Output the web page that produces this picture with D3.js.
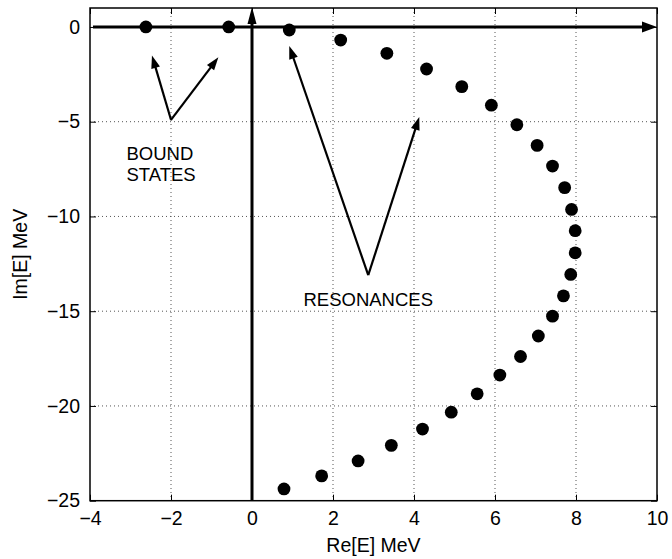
<!DOCTYPE html>
<html>
<head>
<meta charset="utf-8">
<script src="https://cdn.jsdelivr.net/npm/d3@7"></script>
<style>
  html, body { margin: 0; padding: 0; background: #fff; }
  svg { display: block; }
  text { font-family: "Liberation Sans", Arial, Helvetica, sans-serif; fill: #000; }
</style>
</head>
<body>
<svg id="chart" width="672" height="559"></svg>
<script>
// Pole positions in the complex energy plane (MeV)
const reE = [-2.62, -0.575, 0.92, 2.19, 3.33, 4.31, 5.18, 5.91, 6.54, 7.04, 7.42, 7.72, 7.89, 7.98,
             7.98, 7.87, 7.69, 7.42, 7.07, 6.63, 6.12, 5.56, 4.92, 4.21, 3.44, 2.62, 1.72, 0.79];
const imE = [0, 0, -0.16, -0.69, -1.39, -2.22, -3.15, -4.13, -5.16, -6.25, -7.34, -8.48, -9.63, -10.75,
             -11.92, -13.06, -14.19, -15.26, -16.31, -17.39, -18.37, -19.36, -20.33, -21.22, -22.08, -22.90, -23.69, -24.38];

const xTicks = [-4, -2, 0, 2, 4, 6, 8, 10];
const yTicks = [0, -5, -10, -15, -20, -25];
const xDomain = [-4, 10];
const yDomain = [1, -25];

// Annotation arrows: [fromX, fromY, toX, toY] in data units
const boundArrows = [[-2.0, -4.9, -2.47, -1.5], [-2.0, -4.9, -0.83, -1.6]];
const resonanceArrows = [[2.87, -13.1, 0.92, -1.0], [2.87, -13.1, 4.13, -4.75]];
const boundLabel = { x: -3.1, y: -7.0, lines: ["BOUND", "STATES"] };
const resonanceLabel = { x: 2.87, y: -14.7, lines: ["RESONANCES"] };

const svg = d3.select("#chart");
const x = d3.scaleLinear().domain(xDomain).range([90, 657]);
const y = d3.scaleLinear().domain(yDomain).range([8, 500.7]);

const minus = d => (d < 0 ? "\u2212" + Math.abs(d) : String(d));

// dotted grid
const grid = svg.append("g").attr("stroke", "#555").attr("stroke-width", 1)
  .attr("stroke-dasharray", "1,3");
grid.selectAll("line.gx").data(xTicks.slice(1, -1)).join("line")
  .attr("x1", d => x(d)).attr("x2", d => x(d)).attr("y1", y(yDomain[0])).attr("y2", y(yDomain[1]));
grid.selectAll("line.gy").data(yTicks.slice(1, -1)).join("line")
  .attr("y1", d => y(d)).attr("y2", d => y(d)).attr("x1", x(xDomain[0])).attr("x2", x(xDomain[1]));

// axes with inward ticks on all four sides
const fontPx = 19.5;
const ax = svg.append("g").attr("transform", `translate(0,${y(yDomain[1])})`)
  .call(d3.axisBottom(x).tickValues(xTicks).tickFormat(minus).tickSizeInner(-6).tickSizeOuter(0).tickPadding(10));
const ay = svg.append("g").attr("transform", `translate(${x(xDomain[0])},0)`)
  .call(d3.axisLeft(y).tickValues(yTicks).tickFormat(minus).tickSizeInner(-6).tickSizeOuter(0).tickPadding(10));
const at = svg.append("g").attr("transform", `translate(0,${y(yDomain[0])})`)
  .call(d3.axisTop(x).tickValues(xTicks).tickFormat("").tickSizeInner(-6).tickSizeOuter(0));
const ar = svg.append("g").attr("transform", `translate(${x(xDomain[1])},0)`)
  .call(d3.axisRight(y).tickValues(yTicks).tickFormat("").tickSizeInner(-6).tickSizeOuter(0));
[ax, ay, at, ar].forEach(g => {
  g.select(".domain").remove();
  g.selectAll(".tick line").attr("stroke", "#000").attr("stroke-width", 1);
  g.selectAll("text").attr("font-size", fontPx).attr("font-family", "Liberation Sans, Arial, sans-serif").attr("fill", "#000");
});

// frame
svg.append("rect")
  .attr("x", x(xDomain[0])).attr("y", y(yDomain[0]))
  .attr("width", x(xDomain[1]) - x(xDomain[0])).attr("height", y(yDomain[1]) - y(yDomain[0]))
  .attr("fill", "none").attr("stroke", "#000").attr("stroke-width", 1.5);

// arrow helper: line plus filled triangular head
function arrow(g, x1, y1, x2, y2, width, headLen, headHalf) {
  const dx = x2 - x1, dy = y2 - y1, L = Math.hypot(dx, dy);
  const ux = dx / L, uy = dy / L;
  const bx = x2 - ux * headLen, by = y2 - uy * headLen;
  g.append("line").attr("x1", x1).attr("y1", y1).attr("x2", bx + ux * 1).attr("y2", by + uy * 1)
    .attr("stroke", "#000").attr("stroke-width", width);
  g.append("path")
    .attr("d", `M${x2},${y2}L${bx - uy * headHalf},${by + ux * headHalf}L${bx + uy * headHalf},${by - ux * headHalf}Z`)
    .attr("fill", "#000");
}

// coordinate axes through the origin
const axesG = svg.append("g");
arrow(axesG, x(xDomain[0]) + 3, y(0), x(xDomain[1]), y(0), 3, 15, 5.5);
arrow(axesG, x(0), y(yDomain[1]), x(0), y(yDomain[0]) - 1, 3, 17, 4.5);

// annotation arrows
const annG = svg.append("g");
boundArrows.concat(resonanceArrows).forEach(a =>
  arrow(annG, x(a[0]), y(a[1]), x(a[2]), y(a[3]), 2.2, 13, 4.5));

// annotation labels
svg.append("text").attr("x", x(boundLabel.x)).attr("y", y(boundLabel.y))
  .attr("font-size", 18.5)
  .selectAll("tspan").data(boundLabel.lines).join("tspan")
  .attr("x", x(boundLabel.x)).attr("dy", (d, i) => (i ? 21 : 0)).text(d => d);
svg.append("text").attr("x", x(resonanceLabel.x)).attr("y", y(resonanceLabel.y))
  .attr("font-size", 18.5).attr("text-anchor", "middle").text(resonanceLabel.lines[0]);

// poles
svg.append("g").selectAll("circle").data(reE.map((r, i) => [r, imE[i]])).join("circle")
  .attr("cx", d => x(d[0])).attr("cy", d => y(d[1])).attr("r", 6.4).attr("fill", "#000");

// axis titles
svg.append("text").attr("x", (x(xDomain[0]) + x(xDomain[1])) / 2).attr("y", 552)
  .attr("text-anchor", "middle").attr("font-size", fontPx).text("Re[E] MeV");
svg.append("text")
  .attr("transform", `translate(27,${(y(yDomain[0]) + y(yDomain[1])) / 2}) rotate(-90)`)
  .attr("text-anchor", "middle").attr("font-size", fontPx).text("Im[E] MeV");
</script>
</body>
</html>
